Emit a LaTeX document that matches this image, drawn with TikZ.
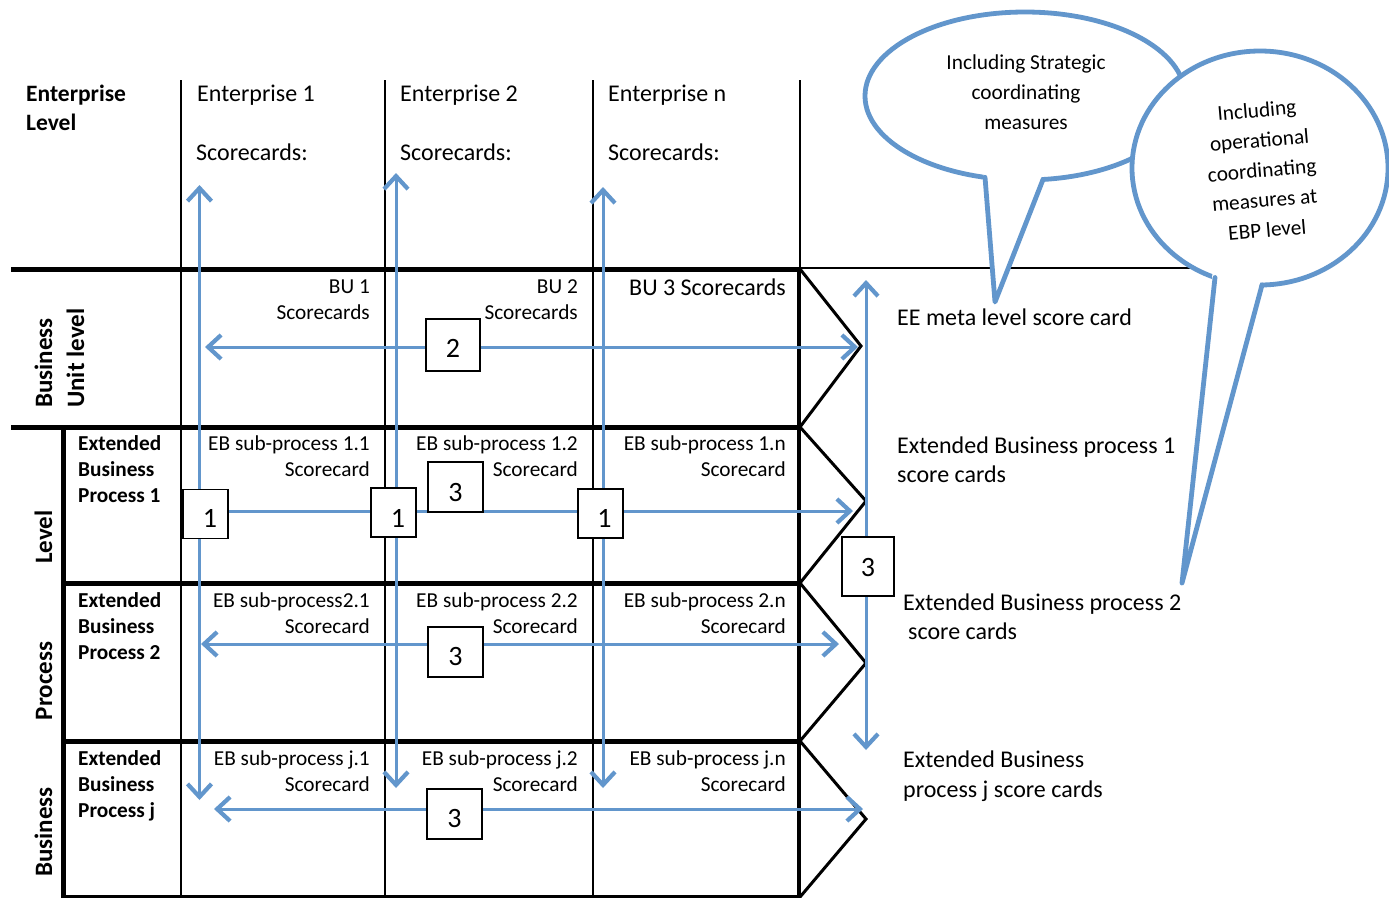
\documentclass[tikz,border=0pt]{standalone}
\usepackage{fontspec}
\setmainfont{Carlito}
\usetikzlibrary{arrows.meta}
\definecolor{cblue}{RGB}{98,150,204}
\tikzset{
  gridline/.style={line width=1.8pt},
  heavyline/.style={line width=5pt},
  chev/.style={line width=3pt, line join=miter},
  bline/.style={cblue, line width=3pt},
  btip/.tip={Straight Barb[length=13pt,width=24pt,line width=4.2pt]},
  barrow/.style={bline, -btip},
  bboth/.style={bline, btip-btip},
  numbox/.style={draw, line width=1.3pt, fill=white, inner sep=0pt},
  numtxt/.style={inner sep=0pt, font=\fontsize{28}{30}\selectfont},
  bigtxt/.style={font=\fontsize{24}{28}\selectfont, inner sep=0pt},
  smalltxt/.style={font=\fontsize{21.3}{26}\selectfont, inner sep=0pt},
  boldtxt/.style={font=\fontsize{21.3}{26}\selectfont\bfseries, inner sep=0pt},
  sidetxt/.style={font=\fontsize{25}{30}\selectfont\bfseries, inner sep=0pt, rotate=90},
  callout/.style={cblue, line width=4.8pt, fill=white},
  calloutedge/.style={cblue, line width=4.8pt, line join=round, line cap=round},
  calltxt/.style={font=\fontsize{21.3}{30}\selectfont, align=center, inner sep=0pt},
}
\begin{document}
\begin{tikzpicture}[x=1pt,y=-1pt]
\useasboundingbox[fill=white] (0,0) rectangle (1389,898);

% ---- grid ----
\draw[gridline] (181,80) -- (181,897);
\draw[gridline] (385,80) -- (385,897);
\draw[gridline] (593,80) -- (593,897);
\draw[gridline] (800,80) -- (800,269);
\draw[line width=1.2pt] (800,268) -- (1200,268);
\draw[heavyline] (11,269) -- (801,269);
\draw[heavyline] (11,427) -- (801,427);
\draw[heavyline] (61,583) -- (801,583);
\draw[heavyline] (61,741) -- (801,741);
\draw[line width=3pt] (61,896.5) -- (801,896.5);
\draw[heavyline] (63,425) -- (63,898);
\draw[line width=4.5pt] (799,267) -- (799,898);

% ---- chevrons ----
\draw[chev] (800,269) -- (861,346) -- (800,427);
\draw[chev] (800,427) -- (866,501) -- (800,583);
\draw[chev] (800,583) -- (866,663) -- (800,741);
\draw[chev] (800,741) -- (866,819) -- (800,897);

% ---- blue connectors ----
\coordinate (v1t) at (199.5,185);  \coordinate (v1b) at (199.5,800);
\coordinate (v2t) at (396,173);    \coordinate (v2b) at (396,788);
\coordinate (v3t) at (603,187);    \coordinate (v3b) at (603,788);
\coordinate (v4t) at (866,280);    \coordinate (v4b) at (866,750);
\coordinate (buL) at (205,347);    \coordinate (buR) at (858,347);
\coordinate (r1s) at (228,511);    \coordinate (r1e) at (853,511);
\coordinate (r2L) at (201,644);    \coordinate (r2R) at (839,644);
\coordinate (rjL) at (214,809);    \coordinate (rjR) at (863,809);
\draw[bboth] (v1t) -- (v1b);
\draw[bboth] (v2t) -- (v2b);
\draw[bboth] (v3t) -- (v3b);
\draw[bboth] (v4t) -- (v4b);
\draw[bboth] (buL) -- (buR);
\draw[barrow] (r1s) -- (r1e);
\draw[bboth] (r2L) -- (r2R);
\draw[bboth] (rjL) -- (rjR);

% ---- number boxes ----
\node[numbox, minimum width=45pt, minimum height=49pt] (bA) at (205.5,514) {};
\node[numtxt] (tA) at ([shift={(4.5,4.5)}]bA.center) {1};
\node[numbox, minimum width=45pt, minimum height=49pt] (bB) at (393.5,512.5) {};
\node[numtxt] (tB) at ([shift={(4.5,5.5)}]bB.center) {1};
\node[numbox, minimum width=45pt, minimum height=49pt] (bC) at (600.5,513.5) {};
\node[numtxt] (tC) at ([shift={(4,5)}]bC.center) {1};
\node[numbox, minimum width=54pt, minimum height=52pt] (b2) at (453,345) {};
\node[numtxt] (t2) at ([shift={(0,3)}]b2.center) {2};
\node[numbox, minimum width=55pt, minimum height=50pt] (b31) at (455.5,487) {};
\node[numtxt] (t31) at ([shift={(0,5)}]b31.center) {3};
\node[numbox, minimum width=55pt, minimum height=50pt] (b32) at (455.5,652) {};
\node[numtxt] (t32) at ([shift={(0,4.5)}]b32.center) {3};
\node[numbox, minimum width=55pt, minimum height=50pt] (b3j) at (454.5,814) {};
\node[numtxt] (t3j) at ([shift={(0,4)}]b3j.center) {3};
\node[numbox, minimum width=52pt, minimum height=59pt] (b3r) at (868,566.5) {};
\node[numtxt] (t3r) at ([shift={(0,1)}]b3r.center) {3};

% ---- header texts ----
\node[bigtxt, font=\fontsize{23.5}{28}\selectfont\bfseries, anchor=base west] (el1) at (26,101) {Enterprise};
\node[bigtxt, font=\fontsize{23.5}{28}\selectfont\bfseries, anchor=base west] (el2) at (26,130) {Level};
\node[bigtxt, anchor=base west] (e1) at (197,101.5) {Enterprise 1};
\node[bigtxt, anchor=base west] (s1) at (196,160) {Scorecards:};
\node[bigtxt, anchor=base west] (e2) at (400,101.5) {Enterprise 2};
\node[bigtxt, anchor=base west] (s2) at (400,160) {Scorecards:};
\node[bigtxt, anchor=base west] (en) at (608,101.5) {Enterprise n};
\node[bigtxt, anchor=base west] (sn) at (608,160) {Scorecards:};

% ---- BU row ----
\node[smalltxt, anchor=base east] (bu1a) at (370,293) {BU 1};
\node[smalltxt, anchor=base east] (bu1b) at (370,319) {Scorecards};
\node[smalltxt, anchor=base east] (bu2a) at (578,293) {BU 2};
\node[smalltxt, anchor=base east] (bu2b) at (578,319) {Scorecards};
\node[bigtxt, anchor=base east] (bu3) at (786,295) {BU 3 Scorecards};

% ---- side labels ----
\node[sidetxt, anchor=base west] (sbu1) at (52,408) {Business};
\node[sidetxt, anchor=base west] (sbu2) at (84,408) {Unit level};
\node[sidetxt, anchor=base] (slev) at (52,537) {Level};
\node[sidetxt, anchor=base] (sproc) at (52,681) {Process};
\node[sidetxt, anchor=base] (sbus) at (52,832) {Business};

% ---- EBP labels ----
\node[boldtxt, anchor=base west] (p1a) at (78,450) {Extended};
\node[boldtxt, anchor=base west] (p1b) at (78,476) {Business};
\node[boldtxt, anchor=base west] (p1c) at (78,502) {Process 1};
\node[boldtxt, anchor=base west] (p2a) at (78,607) {Extended};
\node[boldtxt, anchor=base west] (p2b) at (78,633) {Business};
\node[boldtxt, anchor=base west] (p2c) at (78,659) {Process 2};
\node[boldtxt, anchor=base west] (pja) at (78,765) {Extended};
\node[boldtxt, anchor=base west] (pjb) at (78,791) {Business};
\node[boldtxt, anchor=base west] (pjc) at (78,817) {Process j};

% ---- sub-process cells ----
\node[smalltxt, anchor=base east] (c11) at (370,450) {EB sub-process 1.1};
\node[smalltxt, anchor=base east] (c11s) at (370,476) {Scorecard};
\node[smalltxt, anchor=base east] (c12) at (578,450) {EB sub-process 1.2};
\node[smalltxt, anchor=base east] (c12s) at (578,476) {Scorecard};
\node[smalltxt, anchor=base east] (c1n) at (786,450) {EB sub-process 1.n};
\node[smalltxt, anchor=base east] (c1ns) at (786,476) {Scorecard};
\node[smalltxt, anchor=base east] (c21) at (370,607) {EB sub-process2.1};
\node[smalltxt, anchor=base east] (c21s) at (370,633) {Scorecard};
\node[smalltxt, anchor=base east] (c22) at (578,607) {EB sub-process 2.2};
\node[smalltxt, anchor=base east] (c22s) at (578,633) {Scorecard};
\node[smalltxt, anchor=base east] (c2n) at (786,607) {EB sub-process 2.n};
\node[smalltxt, anchor=base east] (c2ns) at (786,633) {Scorecard};
\node[smalltxt, anchor=base east] (cj1) at (370,765) {EB sub-process j.1};
\node[smalltxt, anchor=base east] (cj1s) at (370,791) {Scorecard};
\node[smalltxt, anchor=base east] (cj2) at (578,765) {EB sub-process j.2};
\node[smalltxt, anchor=base east] (cj2s) at (578,791) {Scorecard};
\node[smalltxt, anchor=base east] (cjn) at (786,765) {EB sub-process j.n};
\node[smalltxt, anchor=base east] (cjns) at (786,791) {Scorecard};

% ---- right-hand labels ----
\node[bigtxt, anchor=base west] (rEE) at (897,325) {EE meta level score card};
\node[bigtxt, anchor=base west] (r1a) at (897,453) {Extended Business process 1};
\node[bigtxt, anchor=base west] (r1b) at (897,482) {score cards};
\node[bigtxt, anchor=base west] (r2a) at (903,610) {Extended Business process 2};
\node[bigtxt, anchor=base west] (r2b) at (908,639) {score cards};
\node[bigtxt, anchor=base west] (rja) at (903,767) {Extended Business};
\node[bigtxt, anchor=base west] (rjb) at (903,797) {process j score cards};

% ---- callout 1 ----
\draw[callout] (1025,96) ellipse [x radius=160, y radius=84];
\fill[white] (983,168) -- (995,300) -- (1045,168) -- cycle;
\draw[calloutedge] (985,177.3) -- (995,302) -- (1043,179.5);
\node[calltxt] (ct1) at (1026,92) {Including Strategic\\coordinating\\measures};

% ---- callout 2 ----
\draw[callout] (1260,168) ellipse [x radius=128, y radius=117];
\fill[white] (1213,268) -- (1182,581) -- (1264,268) -- cycle;
\draw[calloutedge] (1215,277.5) -- (1182,583) -- (1262,285);
\node[calltxt, rotate=5] (ct2) at (1262,170) {Including\\operational\\coordinating\\measures at\\EBP level};
\end{tikzpicture}
\end{document}
